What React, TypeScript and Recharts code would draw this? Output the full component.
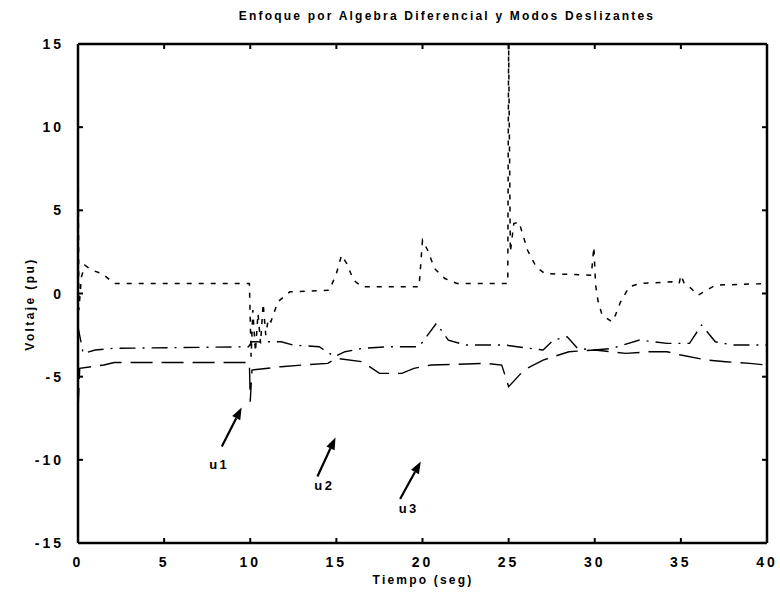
import React from 'react';
import { LineChart, Line, XAxis, YAxis, ReferenceLine, ReferenceDot } from 'recharts';

const timeTicks = [0, 5, 10, 15, 20, 25, 30, 35, 40];
const voltTicks = [-15, -10, -5, 0, 5, 10, 15];

// upper series (short dashes)
const tA = [0, 0.05, 0.2, 0.4, 0.8, 1.4, 2.1, 9.95, 10.05, 10.15, 10.3, 10.45, 10.6, 10.75, 10.9, 11.05, 11.2, 11.6, 12.3, 14.6, 15.0, 15.3, 15.6, 16.0, 16.5, 19.8, 20.0, 20.3, 20.7, 21.3, 22.0, 24.95, 25.0, 25.1, 25.3, 25.6, 26.1, 26.6, 27.1, 29.8, 29.95, 30.05, 30.2, 30.4, 30.7, 31.0, 31.2, 31.5, 32.0, 32.6, 34.5, 34.9, 35.0, 35.2, 35.6, 36.0, 36.5, 37.0, 40];
const vA = [10, -1.0, 1.0, 1.7, 1.4, 1.2, 0.6, 0.6, -3.8, -1.0, -3.5, -1.2, -3.0, -0.6, -2.5, -1.5, -1.7, -0.5, 0.1, 0.2, 1.2, 2.3, 1.8, 0.8, 0.4, 0.4, 3.2, 2.6, 1.5, 0.9, 0.6, 0.6, 15, 2.5, 4.2, 4.3, 2.6, 1.6, 1.2, 1.1, 2.8, 0.5, -0.5, -1.2, -1.5, -1.7, -1.3, -0.5, 0.4, 0.6, 0.7, 0.6, 1.1, 0.6, 0.3, -0.1, 0.2, 0.5, 0.6];

// middle series (dash-dot)
const tB = [0, 0.3, 1.0, 2.0, 9.9, 10.1, 11.8, 12.5, 14.0, 14.9, 15.5, 16.5, 18.0, 19.8, 20.8, 21.5, 22.5, 24.8, 25.5, 27.0, 27.6, 28.4, 29.0, 30.0, 31.0, 32.6, 34.2, 35.5, 36.2, 37.0, 38.0, 40];
const vB = [-2.0, -3.6, -3.4, -3.3, -3.2, -2.9, -2.9, -3.1, -3.2, -3.8, -3.5, -3.3, -3.2, -3.2, -1.8, -2.8, -3.1, -3.1, -3.2, -3.4, -2.8, -2.6, -3.3, -3.4, -3.3, -2.8, -3.0, -3.0, -1.9, -2.9, -3.1, -3.1];

// lower series (long dashes)
const tC = [0, 0.1, 1.5, 2.1, 9.95, 10.0, 10.1, 11.8, 13.0, 14.5, 15.0, 16.5, 17.5, 18.8, 19.5, 20.5, 23.7, 24.6, 25.0, 25.9, 27.0, 28.5, 30.0, 31.8, 33.2, 34.2, 35.0, 36.5, 37.6, 39.0, 40];
const vC = [-7.0, -4.5, -4.3, -4.15, -4.15, -6.5, -4.6, -4.4, -4.3, -4.2, -3.9, -4.1, -4.8, -4.8, -4.5, -4.3, -4.2, -4.3, -5.6, -4.6, -4.0, -3.5, -3.4, -3.6, -3.5, -3.5, -3.7, -4.0, -4.1, -4.2, -4.3];

const annLabels = ['u1', 'u2', 'u3'];
const annTipT = [9.5, 14.95, 19.9];
const annTipV = [-6.85, -8.65, -10.1];
const annTailT = [8.35, 13.9, 18.7];
const annTailV = [-9.2, -11.0, -12.35];
const annTextT = [8.2, 14.3, 19.2];
const annTextV = [-10.3, -11.55, -12.95];

const toPoints = (ts: number[], vs: number[]) => ts.map((t, i) => ({ t, v: vs[i] }));
const dataA = toPoints(tA, vA);
const dataB = toPoints(tB, vB);
const dataC = toPoints(tC, vC);

const FONT = '"Liberation Sans", Arial, sans-serif';
const TICK_LEN = 5;
const BOTTOM_GAP = 13;
const LEFT_GAP = 14;

const Arrow = (p: any) => {
  const { x1, y1, x2, y2 } = p;
  const dx = x2 - x1;
  const dy = y2 - y1;
  const len = Math.hypot(dx, dy) || 1;
  const ux = dx / len;
  const uy = dy / len;
  const hl = 12;
  const hw = 4.5;
  const bx = x2 - ux * hl;
  const by = y2 - uy * hl;
  const px = -uy;
  const py = ux;
  return (
    <g>
      <line x1={x1} y1={y1} x2={bx} y2={by} stroke="#000" strokeWidth={2.2} />
      <polygon points={`${x2},${y2} ${bx + px * hw},${by + py * hw} ${bx - px * hw},${by - py * hw}`} fill="#000" />
    </g>
  );
};

const makeLabel = (text: string) => (p: any) => (
  <text x={p.cx} y={p.cy} textAnchor="middle" dominantBaseline="central" fontFamily={FONT} fontWeight="bold" fontSize={13} letterSpacing={2.5} fill="#000">
    {text}
  </text>
);

const BottomTick = (p: any) => {
  const { x, y, payload } = p;
  const axisY = y - BOTTOM_GAP;
  return (
    <g>
      <line x1={x} y1={axisY} x2={x} y2={axisY - TICK_LEN} stroke="#000" strokeWidth={2} />
      <text x={x} y={y} dy="0.75em" textAnchor="middle" fontFamily={FONT} fontWeight="bold" fontSize={14} letterSpacing={3} fill="#000">
        {payload.value}
      </text>
    </g>
  );
};

const LeftTick = (p: any) => {
  const { x, y, payload } = p;
  const axisX = x + LEFT_GAP;
  return (
    <g>
      <line x1={axisX} y1={y} x2={axisX + TICK_LEN} y2={y} stroke="#000" strokeWidth={2} />
      <text x={x} y={y} dy="0.36em" textAnchor="end" fontFamily={FONT} fontWeight="bold" fontSize={14} letterSpacing={3} fill="#000">
        {payload.value}
      </text>
    </g>
  );
};

const TopTick = (p: any) => {
  const { x, y } = p;
  return <line x1={x} y1={y} x2={x} y2={y + TICK_LEN} stroke="#000" strokeWidth={2} />;
};

const RightTick = (p: any) => {
  const { x, y } = p;
  return <line x1={x} y1={y} x2={x - TICK_LEN} y2={y} stroke="#000" strokeWidth={2} />;
};

const axisLineStyle = { stroke: '#000', strokeWidth: 2.5 };
const titleStyle = { fontFamily: FONT, fontWeight: 'bold' as const, fontSize: 12, letterSpacing: 2.2, color: '#000' };

export default function App() {
  return (
    <div style={{ position: 'absolute', left: 0, top: 0, width: 780, height: 596, background: '#fff' }}>
      <div style={{ position: 'absolute', left: 47, width: 800, top: 9, textAlign: 'center', whiteSpace: 'nowrap', ...titleStyle }}>
        Enfoque por Algebra Diferencial y Modos Deslizantes
      </div>
      <div style={{ position: 'absolute', left: 0, width: 846, top: 573, textAlign: 'center', ...titleStyle, letterSpacing: 2.2 }}>
        Tiempo (seg)
      </div>
      <div style={{ position: 'absolute', left: 30, top: 305, width: 0, height: 0 }}>
        <div style={{ position: 'absolute', left: -70, top: -8, width: 140, textAlign: 'center', transform: 'rotate(-90deg)', ...titleStyle, letterSpacing: 2.4 }}>
          Voltaje (pu)
        </div>
      </div>
      <div style={{ position: 'absolute', left: 0, top: 0 }}>
        <LineChart width={780} height={596} margin={{ top: 43, right: 12, bottom: 23, left: 0 }}>
          <XAxis
            xAxisId="x"
            dataKey="t"
            type="number"
            domain={[0, 40]}
            ticks={timeTicks}
            allowDataOverflow
            height={30}
            tickSize={0}
            tickMargin={BOTTOM_GAP}
            tick={BottomTick}
            axisLine={axisLineStyle}
            tickLine={false}
            interval={0}
          />
          <XAxis
            xAxisId="xt"
            orientation="top"
            dataKey="t"
            type="number"
            domain={[0, 40]}
            ticks={timeTicks}
            allowDataOverflow
            height={1}
            tickSize={0}
            tickMargin={0}
            tick={TopTick}
            axisLine={axisLineStyle}
            tickLine={false}
            interval={0}
          />
          <YAxis
            yAxisId="y"
            type="number"
            domain={[-15, 15]}
            ticks={voltTicks}
            allowDataOverflow
            width={78}
            tickSize={0}
            tickMargin={LEFT_GAP}
            tick={LeftTick}
            axisLine={axisLineStyle}
            tickLine={false}
            interval={0}
          />
          <YAxis
            yAxisId="yr"
            orientation="right"
            type="number"
            domain={[-15, 15]}
            ticks={voltTicks}
            allowDataOverflow
            width={1}
            tickSize={0}
            tickMargin={0}
            tick={RightTick}
            axisLine={axisLineStyle}
            tickLine={false}
            interval={0}
          />
          <Line xAxisId="x" yAxisId="y" data={dataC} dataKey="v" type="linear" stroke="#000" strokeWidth={1.4} strokeDasharray="22 9" dot={false} isAnimationActive={false} />
          <Line xAxisId="x" yAxisId="y" data={dataB} dataKey="v" type="linear" stroke="#000" strokeWidth={1.4} strokeDasharray="16 7 2 7" dot={false} isAnimationActive={false} />
          <Line xAxisId="x" yAxisId="y" data={dataA} dataKey="v" type="linear" stroke="#000" strokeWidth={1.5} strokeDasharray="5 7" dot={false} isAnimationActive={false} />
          {annLabels.map((lab, i) => (
            <ReferenceLine
              key={'a' + lab}
              xAxisId="x"
              yAxisId="y"
              segment={[{ x: annTailT[i], y: annTailV[i] }, { x: annTipT[i], y: annTipV[i] }]}
              shape={Arrow}
            />
          ))}
          {annLabels.map((lab, i) => (
            <ReferenceDot
              key={'l' + lab}
              xAxisId="x"
              yAxisId="y"
              x={annTextT[i]}
              y={annTextV[i]}
              r={1}
              shape={makeLabel(lab)}
            />
          ))}
        </LineChart>
      </div>
    </div>
  );
}
